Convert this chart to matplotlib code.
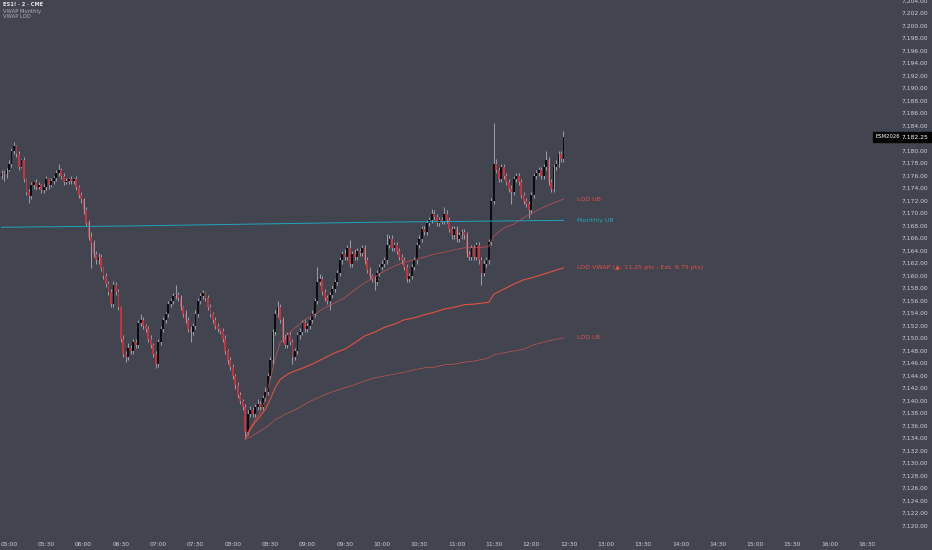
import matplotlib.pyplot as plt
import numpy as np
from matplotlib.patches import Rectangle
from matplotlib.transforms import blended_transform_factory

# ES1! 2-minute bars, first bar at 04:54, last at 12:26
first_open = 7176.0
closes = [
    7176.5, 7176.25, 7177.0, 7178.0, 7180.0, 7180.75, 7179.5, 7177.5, 7178.5, 7175.5,
    7173.5, 7172.75, 7174.5, 7175.0, 7174.25, 7174.5, 7173.75, 7174.25, 7175.5, 7174.5,
    7175.25, 7175.75, 7176.5, 7177.0, 7176.0, 7175.0, 7175.25, 7175.5, 7175.25, 7175.5,
    7174.25, 7173.0, 7172.25, 7170.5, 7168.5, 7166.25, 7165.25, 7163.5, 7162.5, 7163.0,
    7161.25, 7160.0, 7158.75, 7157.5, 7155.5, 7158.5, 7157.5, 7155.0, 7150.0, 7147.5,
    7147.0, 7148.5, 7148.0, 7149.5, 7149.0, 7152.5, 7153.0, 7152.0, 7151.5, 7150.0,
    7149.0, 7147.5, 7146.0, 7149.5, 7151.5, 7153.0, 7154.0, 7155.5, 7156.0, 7156.75,
    7157.0, 7156.5, 7155.0, 7154.0, 7153.0, 7151.5, 7151.0, 7152.0, 7154.0, 7156.0,
    7156.75, 7157.25, 7156.5, 7155.0, 7154.0, 7153.0, 7152.0, 7151.5, 7151.25, 7150.0,
    7148.0, 7146.5, 7145.5, 7144.0, 7142.5, 7141.0, 7140.0, 7139.0, 7135.0, 7138.0,
    7138.5, 7138.0, 7139.0, 7139.5, 7139.0, 7140.5, 7141.5, 7144.0, 7146.5, 7151.0,
    7154.0, 7155.0, 7153.0, 7150.0, 7149.0, 7150.5, 7149.5, 7147.0, 7148.0, 7150.5,
    7151.0, 7152.5, 7151.5, 7152.0, 7153.0, 7154.0, 7156.0, 7159.0, 7159.5, 7157.5,
    7156.5, 7156.0, 7157.0, 7158.0, 7159.0, 7160.5, 7162.5, 7163.5, 7163.0, 7164.5,
    7162.0, 7163.5, 7163.0, 7164.0, 7163.75, 7164.5, 7162.5, 7161.0, 7160.0, 7159.5,
    7159.0, 7160.5, 7161.5, 7162.0, 7162.5, 7165.0, 7166.0, 7164.5, 7165.0, 7164.0,
    7163.0, 7162.5, 7161.5, 7159.5, 7160.0, 7161.5, 7162.5, 7165.0, 7166.0, 7167.5,
    7167.0, 7168.5, 7169.0, 7170.0, 7169.5, 7168.5, 7169.0, 7168.75, 7170.0, 7169.0,
    7167.5, 7166.5, 7167.5, 7166.0, 7166.5, 7167.0, 7166.5, 7163.5, 7163.0, 7164.5,
    7163.0, 7165.0, 7162.5, 7160.5, 7162.0, 7162.5, 7165.5, 7172.0, 7178.0, 7177.0,
    7175.5, 7177.5, 7176.0, 7175.0, 7174.0, 7173.5, 7175.5, 7176.0, 7175.0, 7173.0,
    7172.0, 7171.5, 7170.5, 7173.0, 7176.0, 7176.5, 7177.0, 7176.0, 7177.5, 7178.5,
    7175.0, 7174.0, 7177.5, 7178.0, 7179.5, 7178.75, 7182.25,
]
# wick length above / below the body, points
wick_up = [
    0.5, 0.5, 0.25, 0.5, 0.5, 0.75, 0.25, 0.5, 0.25, 0.5,
    0.25, 0.5, 0.5, 0.25, 0.5, 0.5, 0.25, 0.5, 0.5, 0.25,
    0.5, 0.25, 0.5, 1.0, 0.25, 0.5, 0.5, 0.25, 0.5, 0.25,
    0.5, 0.25, 0.5, 0.25, 0.5, 0.5, 0.75, 0.5, 0.5, 0.75,
    0.5, 0.25, 0.5, 0.5, 0.5, 0.75, 0.5, 0.5, 0.25, 0.5,
    0.5, 0.75, 0.5, 0.5, 0.5, 0.5, 1.0, 0.5, 0.25, 0.5,
    0.5, 0.25, 0.5, 0.5, 0.5, 0.5, 0.25, 0.5, 0.5, 0.5,
    1.5, 0.5, 0.5, 0.25, 0.5, 0.5, 0.5, 0.5, 0.5, 0.5,
    0.5, 0.5, 0.25, 0.5, 0.5, 0.25, 0.5, 0.5, 0.25, 0.5,
    0.5, 0.25, 0.5, 0.5, 0.25, 0.5, 0.5, 0.25, 0.5, 0.5,
    0.75, 0.5, 0.5, 0.75, 0.5, 0.5, 0.75, 0.5, 0.5, 0.5,
    0.5, 1.0, 0.5, 0.5, 0.75, 0.5, 0.5, 0.5, 0.5, 0.5,
    0.75, 0.5, 0.5, 0.5, 0.5, 0.5, 0.5, 2.5, 0.75, 0.5,
    0.5, 0.5, 0.5, 0.5, 0.5, 0.5, 0.5, 0.5, 0.75, 0.5,
    1.25, 0.5, 0.75, 0.5, 0.5, 0.5, 0.5, 0.5, 0.5, 0.25,
    0.5, 0.5, 0.5, 0.5, 0.5, 1.75, 0.5, 0.5, 0.5, 0.5,
    0.5, 0.5, 0.5, 0.5, 0.5, 0.5, 0.5, 0.5, 0.5, 0.5,
    0.5, 0.5, 0.5, 0.75, 0.5, 0.5, 0.5, 0.5, 1.0, 0.5,
    0.5, 0.5, 0.5, 0.5, 0.5, 0.5, 0.5, 0.5, 0.5, 0.5,
    0.5, 0.5, 0.5, 0.5, 0.5, 0.5, 0.5, 0.5, 6.5, 0.75,
    0.5, 0.5, 0.5, 0.5, 0.5, 0.5, 0.5, 0.5, 0.5, 0.5,
    0.5, 0.5, 0.5, 0.5, 0.5, 0.5, 0.5, 0.5, 0.5, 1.5,
    0.5, 0.5, 0.5, 0.5, 0.5, 0.5, 1.0,
]
wick_dn = [
    0.5, 1.0, 0.5, 0.25, 0.5, 0.5, 0.5, 0.5, 0.25, 0.5,
    0.5, 1.0, 0.5, 0.5, 0.5, 0.25, 0.5, 0.5, 0.5, 0.5,
    0.25, 0.5, 0.5, 0.5, 0.5, 0.5, 0.25, 0.5, 0.5, 0.5,
    0.5, 0.5, 0.5, 0.5, 0.5, 0.5, 4.0, 0.5, 0.5, 0.5,
    0.5, 0.5, 0.5, 0.5, 0.5, 0.5, 0.5, 0.5, 0.5, 0.5,
    0.75, 0.5, 0.5, 0.5, 0.5, 0.5, 0.5, 0.5, 0.5, 0.5,
    0.5, 0.5, 0.75, 0.5, 0.5, 0.5, 0.5, 0.5, 0.5, 0.5,
    0.5, 0.5, 0.5, 0.5, 0.5, 0.5, 1.5, 0.5, 0.5, 0.5,
    0.5, 0.5, 0.5, 0.5, 0.5, 0.5, 0.5, 0.5, 0.5, 0.5,
    0.5, 0.5, 0.5, 0.5, 0.5, 0.5, 0.5, 0.5, 1.0, 0.5,
    0.5, 0.5, 0.5, 0.5, 0.5, 0.5, 0.5, 0.5, 0.5, 0.5,
    0.5, 0.5, 0.5, 0.5, 0.5, 0.5, 0.5, 1.0, 0.5, 0.5,
    0.5, 0.5, 0.5, 0.5, 0.5, 0.5, 0.5, 0.5, 0.5, 0.5,
    0.5, 0.5, 1.5, 0.5, 0.5, 0.5, 0.5, 0.5, 0.5, 0.5,
    0.5, 0.5, 0.5, 0.5, 0.5, 0.5, 0.5, 0.5, 0.5, 0.5,
    1.25, 0.5, 0.5, 0.5, 0.5, 0.5, 0.5, 0.5, 0.5, 0.5,
    0.5, 0.5, 0.5, 0.5, 0.5, 0.5, 0.5, 0.5, 0.5, 0.5,
    0.5, 0.5, 0.5, 0.5, 0.5, 0.5, 0.5, 0.5, 0.5, 0.5,
    0.5, 0.5, 0.5, 0.5, 0.5, 0.5, 0.5, 0.5, 0.5, 0.5,
    0.5, 0.5, 0.5, 2.0, 0.5, 0.5, 0.5, 0.5, 0.5, 0.5,
    0.5, 0.5, 0.5, 0.5, 0.5, 2.0, 0.5, 0.5, 0.5, 0.5,
    0.5, 0.5, 1.25, 0.5, 0.5, 0.5, 0.5, 0.5, 0.5, 0.5,
    0.5, 0.5, 0.5, 0.5, 0.5, 0.5, 0.5,
]

# VWAP anchored at the low of day (bar index -> value)
band_bars = [98, 99, 100, 102, 104, 106, 108, 110, 112, 114, 116, 118, 120, 122,
             126, 130, 134, 138, 142, 146, 150, 154, 158, 162, 166, 170, 174, 178,
             182, 186, 190, 194, 196, 198, 202, 206, 210, 214, 218, 222, 226]
lod_vwap = [7134.0, 7134.6, 7135.4, 7136.6, 7137.6, 7138.6, 7140.2, 7142.1, 7143.4,
            7144.0, 7144.5, 7144.8, 7145.1, 7145.4, 7146.1, 7146.9, 7147.7, 7148.3,
            7149.3, 7150.4, 7151.0, 7151.8, 7152.3, 7153.0, 7153.3, 7153.8, 7154.2,
            7154.7, 7155.0, 7155.4, 7155.5, 7155.7, 7155.8, 7157.1, 7157.9, 7158.7,
            7159.4, 7159.8, 7160.3, 7160.8, 7161.3]
lod_ub = [7134.0, 7135.0, 7135.7, 7137.0, 7138.2, 7140.2, 7143.4, 7146.6, 7149.3,
          7150.2, 7151.0, 7151.7, 7152.3, 7153.0, 7153.9, 7154.9, 7155.7, 7156.5,
          7157.8, 7158.9, 7159.8, 7160.8, 7161.6, 7162.2, 7162.6, 7163.0, 7163.5,
          7163.8, 7164.2, 7164.5, 7164.6, 7164.6, 7164.8, 7166.4, 7167.7, 7168.3,
          7169.3, 7170.2, 7171.0, 7171.7, 7172.3]
lod_lb = [7134.0, 7134.1, 7134.2, 7134.7, 7135.2, 7135.7, 7136.3, 7137.0, 7137.4,
          7137.9, 7138.2, 7138.6, 7139.0, 7139.5, 7140.3, 7141.0, 7141.6, 7142.1,
          7142.6, 7143.2, 7143.7, 7144.0, 7144.3, 7144.6, 7145.0, 7145.3, 7145.4,
          7145.8, 7145.9, 7146.2, 7146.4, 7146.7, 7146.9, 7147.4, 7147.7, 7148.0,
          7148.3, 7149.0, 7149.4, 7149.8, 7150.1]

monthly_bars = [0, 50, 100, 150, 200, 226]
monthly_ub = [7167.8, 7168.0, 7168.3, 7168.6, 7168.8, 7168.9]

price_ticks = np.arange(7120, 7205, 2)
time_ticks = list(range(0, 691, 30))  # minutes after 05:00

BG = "#42454f"
UP = "#0c0d10"
DOWN = "#c8323c"
WICK = "#a9acb5"
RED = "#e5503f"
BAND = "#c65252"
CYAN = "#23a4c0"
TXT = "#cfd1d7"

closes = np.array(closes)
opens = np.r_[first_open, closes[:-1]]
highs = np.maximum(opens, closes) + np.array(wick_up)
lows = np.minimum(opens, closes) - np.array(wick_dn)
t = -6 + 2 * np.arange(len(closes))  # minutes after 05:00

fig = plt.figure(figsize=(9.32, 5.5), dpi=100)
fig.patch.set_facecolor(BG)
ax = fig.add_axes([0, 0, 1, 1])
ax.set_facecolor(BG)
ax.set_xlim(-7.24, 742.4)
ax.set_ylim(7116.16, 7204.16)
ax.axis("off")

# candles
ax.vlines(t, lows, highs, color=WICK, lw=0.6, zorder=2)
up = closes >= opens
body = np.maximum(np.abs(closes - opens), 0.12)
bottom = np.minimum(opens, closes)
ax.bar(t[up], body[up], bottom=bottom[up], width=1.45, color=UP, lw=0, zorder=3)
ax.bar(t[~up], body[~up], bottom=bottom[~up], width=1.45, color=DOWN, lw=0, zorder=3)

# VWAP lines
tb = -6 + 2 * np.array(band_bars)
tm = -6 + 2 * np.array(monthly_bars)
ax.plot(tm, monthly_ub, color=CYAN, lw=0.7, zorder=4)
ax.plot(tb, lod_ub, color=BAND, lw=0.5, zorder=4)
ax.plot(tb, lod_lb, color=BAND, lw=0.5, zorder=4)
ax.plot(tb, lod_vwap, color=RED, lw=0.8, zorder=4)

xl = t[-1] + 10.5
lab = dict(fontsize=4.6, va="center", ha="left")
ax.text(xl, lod_ub[-1], "LOD UB", color=RED, **lab)
ax.text(xl, monthly_ub[-1], "Monthly UB", color=CYAN, **lab)
ax.text(xl, lod_vwap[-1], "LOD VWAP (▲: 11.25 pts ; Ext. 9.75 pts)", color=RED, **lab)
ax.text(xl, lod_lb[-1], "LOD LB", color=RED, **lab)

# price scale
ty = blended_transform_factory(ax.transAxes, ax.transData)
for p in price_ticks:
    ax.text(928 / 932, p, f"{p:,.2f}", transform=ty, ha="right", va="center",
            fontsize=4.3, color=TXT)
last = closes[-1]
ax.add_patch(Rectangle((873 / 932, last - 0.8), 59 / 932, 1.6, transform=ty,
                       color="#050505", clip_on=False, zorder=5))
ax.text(876 / 932, last, "ESM2026", transform=ty, ha="left", va="center",
        fontsize=3.8, color="white", zorder=6)
ax.text(928 / 932, last, f"{last:,.2f}", transform=ty, ha="right", va="center",
        fontsize=4.3, color="white", zorder=6)

# time scale
tx = blended_transform_factory(ax.transData, ax.transAxes)
for m in time_ticks:
    ax.text(m, 1 - 544 / 550, f"{5 + m // 60:02d}:{m % 60:02d}", transform=tx,
            ha="center", va="center", fontsize=4.3, color=TXT)

# legend
fig.text(3 / 932, 1 - 5 / 550, "ES1! · 2 · CME", fontsize=3.7, color="#e6e7ea",
         fontweight="bold", va="center")
fig.text(3 / 932, 1 - 11 / 550, "VWAP Monthly", fontsize=3.8, color="#aeb1ba", va="center")
fig.text(3 / 932, 1 - 17 / 550, "VWAP LOD", fontsize=3.8, color="#aeb1ba", va="center")

fig.savefig("out.png", dpi=100, facecolor=BG)
